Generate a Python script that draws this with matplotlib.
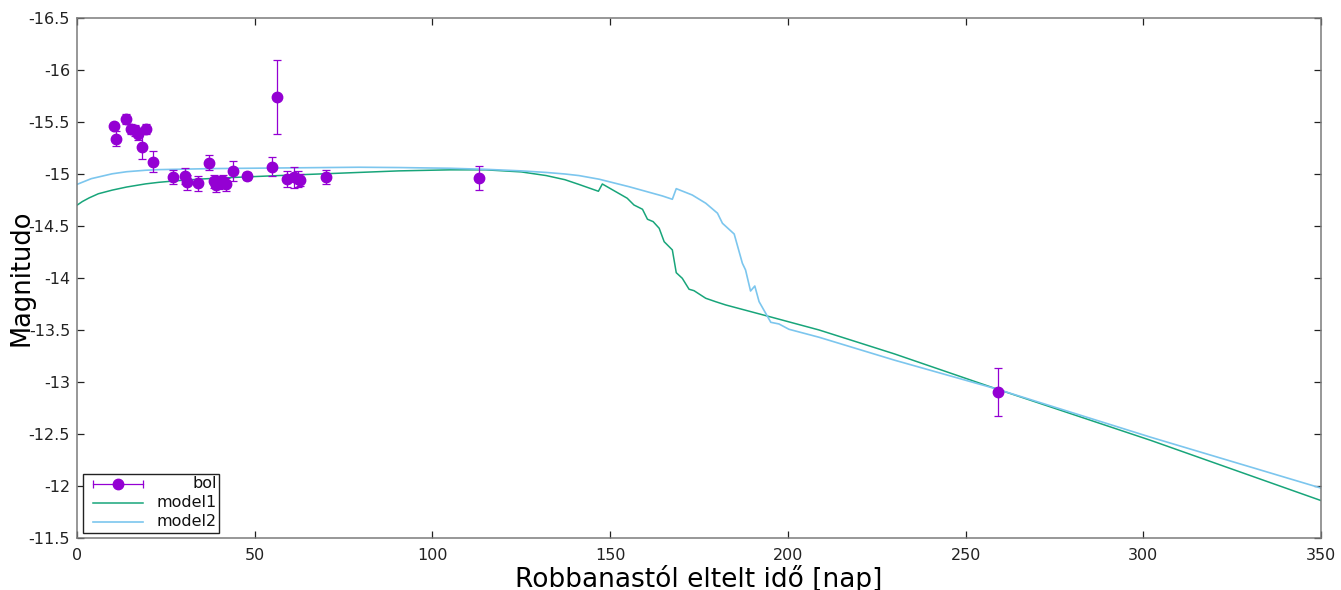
import matplotlib
matplotlib.use("Agg")
import matplotlib.pyplot as plt
from matplotlib.lines import Line2D
from matplotlib.patches import Rectangle

# Bolometric light curve: days since explosion, magnitude, error
bol_days = [10.3, 11.1, 13.9, 15.2, 16.3, 17.3, 18.3, 19.3, 21.3, 27.1,
            30.4, 31.0, 34.1, 37.1, 38.5, 39.0, 40.0, 41.1, 42.0, 44.0,
            47.8, 55.0, 56.2, 59.2, 61.1, 62.1, 62.8, 70.0, 113.1, 259.1]
bol_mag = [-15.46, -15.34, -15.53, -15.43, -15.42, -15.38, -15.26, -15.43, -15.12, -14.97,
           -14.98, -14.92, -14.91, -15.11, -14.93, -14.89, -14.92, -14.93, -14.90, -15.03,
           -14.98, -15.07, -15.74, -14.95, -14.97, -14.95, -14.94, -14.97, -14.96, -12.90]
bol_err = [0.03, 0.07, 0.05, 0.05, 0.05, 0.05, 0.12, 0.05, 0.10, 0.065,
           0.075, 0.075, 0.075, 0.07, 0.06, 0.06, 0.06, 0.06, 0.06, 0.095,
           0.04, 0.09, 0.36, 0.075, 0.10, 0.075, 0.06, 0.07, 0.115, 0.23]

# Model light curves
model1_days = [0, 1.5, 3.4, 6, 9.9, 14, 19.3, 23, 28.7, 35, 42.8, 56.8, 79.3, 90.6, 105,
               115, 125, 132, 137.3, 141.2, 146.7, 147.8, 154.8, 156.7, 159.1, 160.5,
               162.1, 163.8, 165.2, 167.5, 168.6, 170.3, 172.2, 173.6, 176.9, 179.7,
               182.5, 193.8, 208.8, 230, 259, 302, 350]
model1_mag = [-14.70, -14.735, -14.77, -14.81, -14.845, -14.875, -14.905, -14.92, -14.937,
              -14.952, -14.965, -14.985, -15.015, -15.03, -15.04, -15.04, -15.02, -14.985,
              -14.945, -14.90, -14.834, -14.904, -14.767, -14.702, -14.661, -14.565,
              -14.542, -14.478, -14.349, -14.27, -14.051, -13.997, -13.892, -13.878,
              -13.805, -13.772, -13.741, -13.638, -13.50, -13.27, -12.93, -12.44, -11.86]

model2_days = [0, 4, 9.9, 14, 19.3, 23, 38.1, 79.3, 90.6, 105, 115, 125, 132, 137.3,
               141.2, 146.9, 155.3, 164.7, 167.5, 168.6, 173.1, 176.9, 180.2, 181.6,
               184.9, 187.2, 188.1, 189.5, 190.7, 191.9, 195.2, 197.5, 200.3, 208.8,
               230, 259, 302, 350]
model2_mag = [-14.90, -14.955, -15.002, -15.022, -15.036, -15.042, -15.052, -15.065,
              -15.062, -15.055, -15.045, -15.03, -15.015, -15.00, -14.985, -14.95, -14.878,
              -14.789, -14.757, -14.859, -14.798, -14.719, -14.623, -14.526, -14.423,
              -14.142, -14.077, -13.875, -13.923, -13.773, -13.574, -13.558, -13.507,
              -13.43, -13.21, -12.93, -12.47, -11.98]

x_ticks = [0, 50, 100, 150, 200, 250, 300, 350]
y_ticks = [-16.5, -16, -15.5, -15, -14.5, -14, -13.5, -13, -12.5, -12, -11.5]
y_ticklabels = ["-16.5", "-16", "-15.5", "-15", "-14.5", "-14", "-13.5", "-13", "-12.5", "-12", "-11.5"]

c_bol = "#9400d3"
c_m1 = "#18a57a"
c_m2 = "#7cc6ee"

plt.rcParams['font.family'] = ['DejaVu Sans']

W, H = 1341, 590
fig = plt.figure(figsize=(W / 100, H / 100), dpi=100)
ax = fig.add_axes([77 / W, 1 - 538 / H, 1244 / W, 520 / H])

ax.plot(model1_days, model1_mag, color=c_m1, lw=1.1, zorder=2)
ax.plot(model2_days, model2_mag, color=c_m2, lw=1.2, zorder=2)
ax.errorbar(bol_days, bol_mag, yerr=bol_err, fmt='o', color=c_bol, ms=7.5,
            ecolor=c_bol, elinewidth=0.9, capsize=2.8, capthick=0.9, zorder=3)

ax.set_xlim(0, 350)
ax.set_ylim(-11.5, -16.5)
ax.set_xticks(x_ticks)
ax.set_yticks(y_ticks)
ax.set_yticklabels(y_ticklabels)

for s in ax.spines.values():
    s.set_color("#7a7a7a")
    s.set_linewidth(1.1)
ax.tick_params(direction='in', length=5, width=0.9, color='#222222',
               top=True, right=True, labelsize=11.5, labelcolor='#222222')
ax.tick_params(axis='x', pad=7)
ax.tick_params(axis='y', pad=5)

ax.set_xlabel("Robbanastól eltelt idő [nap]", fontsize=19)
ax.xaxis.label.set_va('baseline')
ax.xaxis.set_label_coords(0.5, -0.0943)
ax.set_ylabel("Magnitudo", fontsize=18.5)
ax.yaxis.set_label_coords(-0.0345, 0.5)

# legend box drawn in axes fraction coordinates
T = ax.transAxes
ax.add_patch(Rectangle((0.0048, 0.0096), 0.1092, 0.1134, transform=T,
                       fill=True, facecolor='white', edgecolor='#222222', lw=1.0, zorder=5))
rows = [0.104, 0.0674, 0.0308]
lx0, lx1 = 0.0129, 0.053
ax.add_line(Line2D([lx0, lx1], [rows[0]] * 2, transform=T, color=c_bol, lw=0.9, zorder=6))
ax.add_line(Line2D([lx0, lx1], [rows[0]] * 2, transform=T, color=c_bol, lw=0.9,
                   marker='|', ms=6, markeredgewidth=0.9, linestyle='none', zorder=6))
ax.add_line(Line2D([(lx0 + lx1) / 2], [rows[0]], transform=T, color=c_bol,
                   marker='o', ms=7.5, linestyle='none', zorder=7))
ax.add_line(Line2D([lx0, lx1], [rows[1]] * 2, transform=T, color=c_m1, lw=1.1, zorder=6))
ax.add_line(Line2D([lx0, lx1], [rows[2]] * 2, transform=T, color=c_m2, lw=1.2, zorder=6))
for y, lab in zip(rows, ["bol", "model1", "model2"]):
    ax.text(0.1125, y, lab, transform=T, ha='right', va='center', fontsize=11.5,
            color='#111111', zorder=7)

fig.savefig("out.png", dpi=100)
